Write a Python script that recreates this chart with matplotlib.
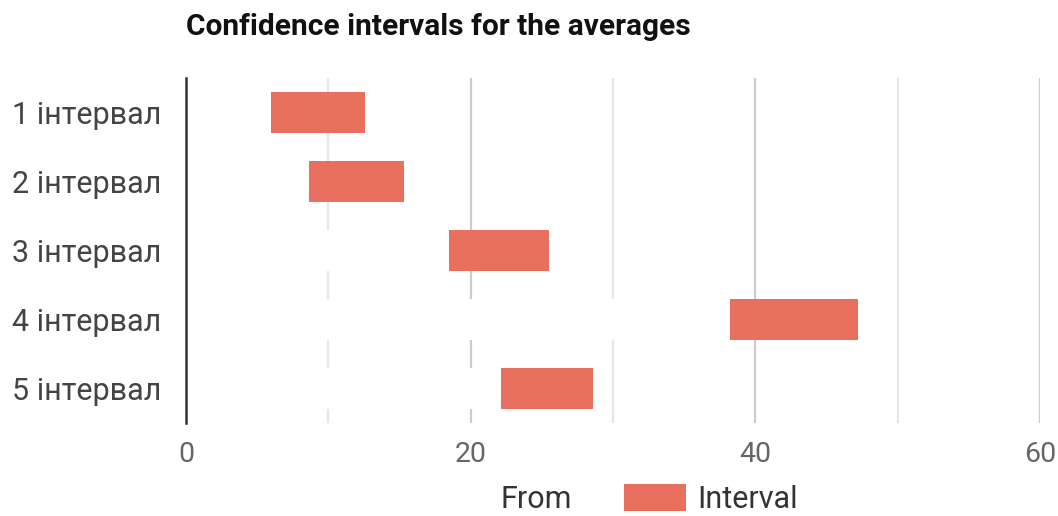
import matplotlib
matplotlib.use("Agg")
import matplotlib.pyplot as plt
from matplotlib.patches import Patch

plt.rcParams['font.family'] = ['Roboto', 'DejaVu Sans']

categories = ["1 інтервал", "2 інтервал", "3 інтервал", "4 інтервал", "5 інтервал"]
start_values = [5.95, 8.65, 18.45, 38.2, 22.15]
interval_widths = [6.65, 6.7, 7.05, 9.0, 6.45]
x_ticks = [0, 20, 40, 60]
title = "Confidence intervals for the averages"

W, H = 1058, 516
fig = plt.figure(figsize=(W / 100, H / 100), dpi=100)
ax = fig.add_axes([186 / W, 1 - 423 / H, (1040 - 186) / W, (423 - 78) / H])

bar_color = "#e9705f"
ypos = list(range(len(categories)))

# gridlines: major every 20, minor every 10
for v in range(10, 61, 10):
    major = v % 20 == 0
    ax.axvline(v, color="#cccccc" if major else "#e6e6e6", lw=1.6, zorder=0)

# invisible "From" segment (white) then the interval itself
ax.barh(ypos, start_values, height=0.6, color="white", zorder=2, label="From")
ax.barh(ypos, interval_widths, left=start_values, height=0.6, color=bar_color,
        zorder=3, label="Interval")

ax.set_xlim(0, 60)
ax.set_ylim(len(categories) - 0.5, -0.5)
ax.set_yticks(ypos)
ax.set_yticklabels(categories, fontsize=22, color="#444444")
ax.set_xticks(x_ticks)
ax.set_xticklabels([str(t) for t in x_ticks], fontsize=20.5, color="#666666")
ax.tick_params(axis="both", length=0)
ax.tick_params(axis="y", pad=18)
ax.tick_params(axis="x", pad=13)

for s in ["top", "right", "bottom"]:
    ax.spines[s].set_visible(False)
ax.spines["left"].set_color("#333333")
ax.spines["left"].set_linewidth(1.8)
ax.spines["left"].set_zorder(5)

fig.text(186 / W, 1 - 35 / H, title, fontsize=21.5, fontweight="bold",
         color="#111111", ha="left", va="baseline")

handles = [Patch(facecolor="white", edgecolor="none", label="From"),
           Patch(facecolor=bar_color, edgecolor="none", label="Interval")]
fig.legend(handles=handles, loc="center", bbox_to_anchor=(613 / W, 1 - 499 / H),
           ncol=2, frameon=False, fontsize=22, handlelength=2.0, handleheight=1.0,
           handletextpad=0.4, columnspacing=1.7, labelcolor="#333333",
           borderpad=0.2)

fig.savefig("out.png", dpi=100)
